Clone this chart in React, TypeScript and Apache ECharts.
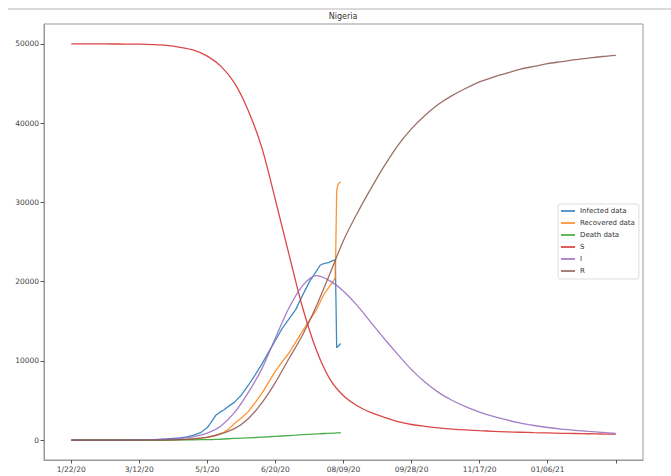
import React, { useEffect, useRef } from "react";
import * as echarts from "echarts";

// x positions: days since 1/22/20
const tickDays = [0, 50, 100, 150, 200, 250, 300, 350, 400];
const xLabels = ["1/22/20", "3/12/20", "5/1/20", "6/20/20", "08/09/20", "09/28/20", "11/17/20", "01/06/21", ""];
const yTicks = [0, 10000, 20000, 30000, 40000, 50000];

// observed data (sampled days)
const dataDays = [0, 10, 20, 30, 40, 50, 60, 70, 80, 85, 90, 95, 100, 103, 106, 109, 112, 115, 120, 125, 130, 135, 140, 145, 150, 155, 160, 165, 170, 175, 180, 183, 186, 189, 192, 194, 195, 196, 198];
const infectedData = [0, 0, 0, 0, 1, 2, 30, 150, 300, 420, 650, 950, 1600, 2300, 3100, 3500, 3800, 4200, 4800, 5700, 6900, 8200, 9600, 11100, 12600, 14100, 15300, 16500, 18300, 20000, 21300, 22100, 22300, 22400, 22650, 22750, 11650, 11850, 12200];
const recoveredData = [0, 0, 0, 0, 0, 0, 2, 10, 60, 100, 170, 250, 350, 450, 600, 800, 1000, 1300, 2100, 2800, 3600, 4700, 5900, 7300, 8700, 9900, 11000, 12400, 13800, 15100, 16400, 17500, 18500, 19200, 19900, 20500, 31500, 32300, 32600];
const deathData = [0, 0, 0, 0, 0, 0, 1, 10, 30, 40, 50, 60, 70, 80, 100, 120, 150, 180, 220, 260, 300, 340, 390, 430, 480, 530, 580, 630, 690, 740, 790, 810, 840, 860, 890, 900, 910, 920, 940];

// model curves (every 10 days)
const modelDays = [0, 10, 20, 30, 40, 50, 60, 70, 80, 90, 100, 110, 120, 130, 140, 150, 160, 170, 180, 190, 200, 210, 220, 230, 240, 250, 260, 270, 280, 290, 300, 310, 320, 330, 340, 350, 360, 370, 380, 390, 400];
const sModel = [49990, 49990, 49985, 49980, 49970, 49950, 49900, 49800, 49560, 49200, 48450, 47150, 45050, 41600, 36900, 30300, 23400, 16700, 11400, 7700, 5600, 4350, 3500, 2880, 2350, 1980, 1750, 1550, 1400, 1300, 1200, 1120, 1050, 1000, 950, 910, 870, 840, 810, 780, 760];
const iModel = [1, 2, 4, 8, 15, 30, 60, 120, 240, 450, 880, 1800, 3500, 6000, 9000, 12900, 16700, 19500, 20750, 20100, 18800, 17000, 14900, 12800, 10800, 8900, 7300, 6000, 5000, 4200, 3550, 3000, 2550, 2150, 1850, 1600, 1400, 1250, 1100, 980, 870];
const rModel = [0, 0, 1, 2, 5, 8, 12, 30, 80, 180, 380, 800, 1450, 2700, 4700, 7300, 10300, 13300, 16900, 21000, 25200, 28600, 31700, 34600, 37200, 39300, 41000, 42400, 43500, 44400, 45200, 45800, 46300, 46800, 47150, 47500, 47750, 48000, 48200, 48400, 48550];

const pairs = (xs: number[], ys: number[]) => xs.map((x, i) => [x, ys[i]]);

const FONT = "DejaVu Sans";

export default function App() {
  const ref = useRef<HTMLDivElement>(null);
  useEffect(() => {
    const chart = echarts.init(ref.current!, null, { renderer: "svg" });
    const line = (name: string, color: string, data: number[][], smooth: number | boolean) => ({
      name,
      type: "line",
      data,
      showSymbol: false,
      symbol: "none",
      smooth,
      color,
      lineStyle: { color, width: 1.3, opacity: 0.85 },
      emphasis: { disabled: true },
    });
    chart.setOption({
      animation: false,
      textStyle: { fontFamily: FONT },
      title: {
        text: "Nigeria",
        left: 343,
        textAlign: "center",
        top: 12,
        padding: 0,
        textStyle: { fontSize: 8, fontWeight: "normal", color: "#333", fontFamily: FONT },
      },
      graphic: [
        {
          type: "line",
          shape: { x1: 8, y1: 9, x2: 671, y2: 9 },
          style: { stroke: "#dadada", lineWidth: 2 },
          silent: true,
        },
      ],
      legend: {
        orient: "vertical",
        left: 558,
        top: 204,
        icon: "rect",
        itemWidth: 14,
        itemHeight: 1.5,
        itemGap: 2,
        padding: [2, 4, 3, 3],
        borderColor: "#ddd",
        borderWidth: 1,
        borderRadius: 2,
        backgroundColor: "#fff",
        textStyle: { fontSize: 7, lineHeight: 10, color: "#333", fontFamily: FONT },
        data: ["Infected data", "Recovered data", "Death data", "S", "I", "R"],
      },
      grid: {
        left: 44,
        right: 28,
        top: 24,
        bottom: 16,
        show: true,
        borderColor: "#999",
        borderWidth: 1,
        outerBoundsMode: "none",
      },
      xAxis: {
        type: "value",
        min: -20,
        max: 420,
        splitLine: { show: false },
        axisLine: { show: true, onZero: false, lineStyle: { color: "#999", width: 1 } },
        axisTick: { show: true, length: 3.5, customValues: tickDays, lineStyle: { color: "#555" } },
        axisLabel: {
          customValues: tickDays,
          margin: 5,
          fontSize: 7.5,
          color: "#444",
          fontFamily: FONT,
          formatter: (v: number) => xLabels[tickDays.indexOf(Math.round(v))] ?? "",
        },
      },
      yAxis: {
        type: "value",
        min: -2500,
        max: 52500,
        splitLine: { show: false },
        axisLine: { show: true, onZero: false, lineStyle: { color: "#999", width: 1 } },
        axisTick: { show: true, length: 3.5, customValues: yTicks, lineStyle: { color: "#555" } },
        axisLabel: {
          customValues: yTicks,
          margin: 5,
          fontSize: 7.5,
          color: "#444",
          fontFamily: FONT,
          formatter: (v: number) => String(v),
        },
      },
      series: [
        line("Infected data", "#1f77b4", pairs(dataDays, infectedData), false),
        line("Recovered data", "#ff7f0e", pairs(dataDays, recoveredData), false),
        line("Death data", "#2ca02c", pairs(dataDays, deathData), false),
        line("S", "#d62728", pairs(modelDays, sModel), 0.3),
        line("I", "#9467bd", pairs(modelDays, iModel), 0.3),
        line("R", "#8c564b", pairs(modelDays, rModel), 0.3),
      ],
    });
    return () => chart.dispose();
  }, []);
  return (
    <div
      ref={ref}
      style={{ position: "fixed", left: 0, top: 0, width: 671, height: 476, background: "#fff" }}
    />
  );
}
